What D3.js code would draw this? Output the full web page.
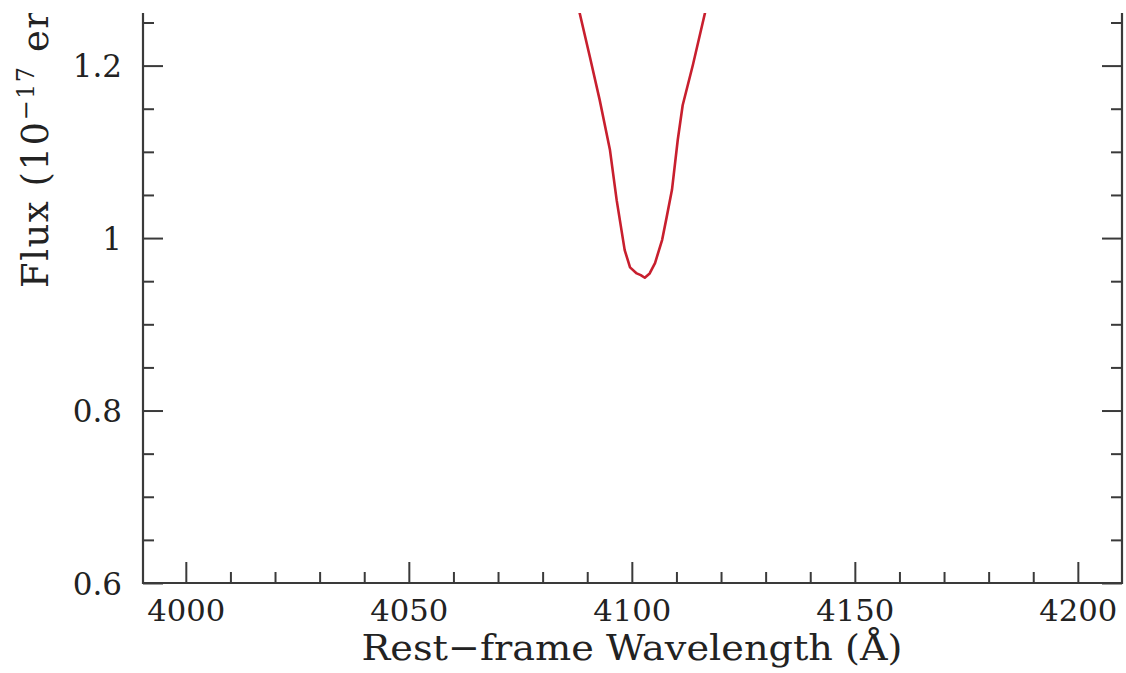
<!DOCTYPE html>
<html>
<head>
<meta charset="utf-8">
<script src="https://cdn.jsdelivr.net/npm/d3@7"></script>
<style>
  html, body { margin: 0; padding: 0; background: #fff; }
  svg { display: block; }
  text { font-family: "DejaVu Serif", "Liberation Serif", serif; fill: #222; }
</style>
</head>
<body>
<svg id="chart" width="1126" height="673"></svg>
<script>
// Spectrum around H-delta: rest-frame wavelength (Å) and flux (1e-17 erg/s/cm²/Å)
const wavelength = [4087.4, 4088.3, 4090.6, 4092.8, 4095.1, 4096.6, 4098.4, 4099.6, 4101.1, 4102.0, 4102.9, 4104.0, 4105.2, 4106.8, 4107.8, 4109.0, 4110.3, 4111.4, 4113.7, 4116.4, 4117.3];
const flux       = [1.285, 1.261, 1.210, 1.160, 1.102, 1.044, 0.986, 0.966, 0.959, 0.957, 0.954, 0.959, 0.971, 0.998, 1.024, 1.056, 1.114, 1.154, 1.201, 1.261, 1.280];

const xMajorTicks = [4000, 4050, 4100, 4150, 4200];
const xMinorTicks = [4010, 4020, 4030, 4040, 4060, 4070, 4080, 4090, 4110, 4120, 4130, 4140, 4160, 4170, 4180, 4190];
const yMajorTicks = [0.6, 0.8, 1.0, 1.2];
const yMinorTicks = [0.65, 0.7, 0.75, 0.85, 0.9, 0.95, 1.05, 1.1, 1.15, 1.25];
const yTickLabels = ["0.6", "0.8", "1", "1.2"];

const xTitle = "Rest\u2212frame Wavelength (\u00C5)";

const svg = d3.select("#chart");
const M = { left: 143, right: 1122, top: 13, bottom: 583 };

const x = d3.scaleLinear().domain([3990.4, 4209.9]).range([M.left, M.right]);
const y = d3.scaleLinear().domain([0.6, 1.261]).range([M.bottom, M.top]);

const defs = svg.append("defs");
defs.append("clipPath").attr("id", "page")
  .append("rect").attr("x", 0).attr("y", M.top).attr("width", 1126).attr("height", 673 - M.top);
defs.append("clipPath").attr("id", "plot")
  .append("rect").attr("x", M.left).attr("y", M.top).attr("width", M.right - M.left).attr("height", M.bottom - M.top);

const g = svg.append("g").attr("clip-path", "url(#page)");
const axisColor = "#3a3a3a";

function styleAxis(sel) {
  sel.select(".domain").remove();
  sel.selectAll(".tick line").attr("stroke", axisColor).attr("stroke-width", 2);
}

// bottom axis: ticks point inward (upward)
g.append("g").attr("transform", `translate(0,${M.bottom})`)
  .call(d3.axisBottom(x).tickValues(xMajorTicks).tickSize(-21).tickFormat(d3.format("d")))
  .call(styleAxis)
  .call(s => s.selectAll(".tick text").attr("font-size", 30).attr("fill", "#2a2a2a")
    .attr("font-family", "DejaVu Serif").attr("dy", 0).attr("y", 38)
    .attr("textLength", 78).attr("lengthAdjust", "spacingAndGlyphs"));
g.append("g").attr("transform", `translate(0,${M.bottom})`)
  .call(d3.axisBottom(x).tickValues(xMinorTicks).tickSize(-11).tickFormat(""))
  .call(styleAxis);

// left axis
g.append("g").attr("transform", `translate(${M.left},0)`)
  .call(d3.axisLeft(y).tickValues(yMajorTicks).tickSize(-20).tickPadding(21)
    .tickFormat((d, i) => yTickLabels[i]))
  .call(styleAxis)
  .call(s => s.selectAll(".tick text").attr("font-size", 31).attr("fill", "#2a2a2a")
    .attr("font-family", "DejaVu Serif").attr("dy", "0.36em"));
g.append("g").attr("transform", `translate(${M.left},0)`)
  .call(d3.axisLeft(y).tickValues(yMinorTicks).tickSize(-11).tickFormat(""))
  .call(styleAxis);

// right axis
g.append("g").attr("transform", `translate(${M.right},0)`)
  .call(d3.axisRight(y).tickValues(yMajorTicks).tickSize(-20).tickFormat(""))
  .call(styleAxis);
g.append("g").attr("transform", `translate(${M.right},0)`)
  .call(d3.axisRight(y).tickValues(yMinorTicks).tickSize(-11).tickFormat(""))
  .call(styleAxis);

// frame lines (left, bottom, right)
g.append("path")
  .attr("d", `M${M.left},${M.top - 2}V${M.bottom}H${M.right}V${M.top - 2}`)
  .attr("fill", "none").attr("stroke", axisColor).attr("stroke-width", 2.2);

// spectrum
const line = d3.line().x((d, i) => x(wavelength[i])).y((d, i) => y(flux[i]));
g.append("g").attr("clip-path", "url(#plot)")
  .append("path").datum(flux)
  .attr("d", line)
  .attr("fill", "none").attr("stroke", "#c81f2e").attr("stroke-width", 2.6)
  .attr("stroke-linejoin", "round");

// axis titles
g.append("text")
  .attr("x", 632).attr("y", 660).attr("text-anchor", "middle")
  .attr("font-size", 36).attr("textLength", 541).attr("lengthAdjust", "spacingAndGlyphs")
  .text(xTitle);

const yl = g.append("text")
  .attr("transform", "translate(48,288) rotate(-90)")
  .attr("font-size", 37).attr("letter-spacing", 1.5);
yl.append("tspan").text("Flux (10");
yl.append("tspan").attr("font-size", 24).attr("dy", -14).text("\u221217");
yl.append("tspan").attr("dy", 14).text(" erg s");
yl.append("tspan").attr("font-size", 24).attr("dy", -14).text("\u22121");
yl.append("tspan").attr("dy", 14).text(" cm");
yl.append("tspan").attr("font-size", 24).attr("dy", -14).text("\u22122");
yl.append("tspan").attr("dy", 14).text(" \u00C5");
yl.append("tspan").attr("font-size", 24).attr("dy", -14).text("\u22121");
yl.append("tspan").attr("dy", 14).text(")");
</script>
</body>
</html>
